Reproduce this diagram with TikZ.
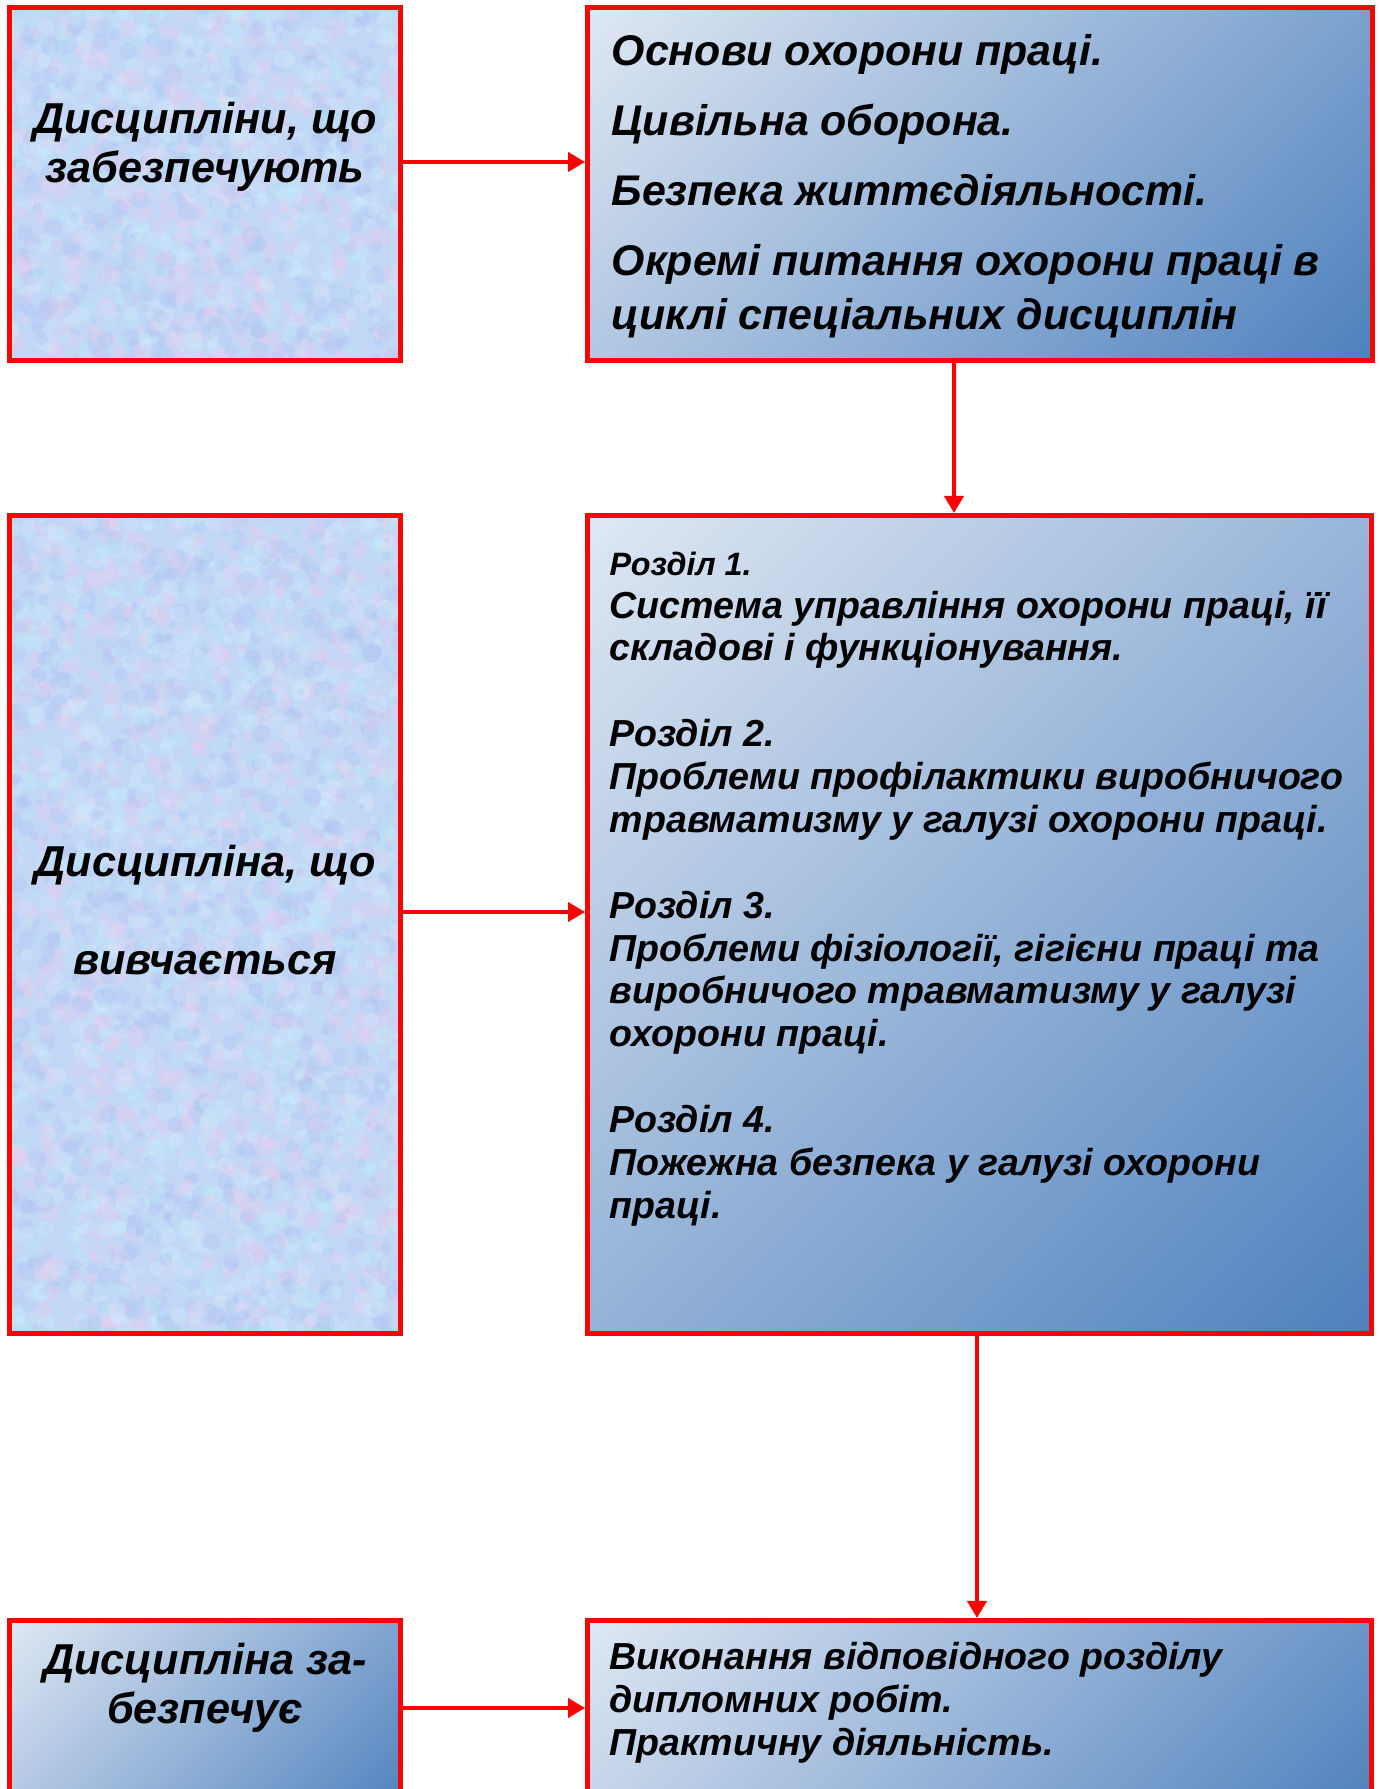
\documentclass[tikz,border=0pt]{standalone}
\usepackage{fontspec}
\setmainfont{Liberation Sans}
\usetikzlibrary{calc,arrows.meta}

\definecolor{boxred}{RGB}{255,0,0}
\definecolor{shlight}{RGB}{222,231,243}
\definecolor{shdark}{RGB}{79,129,189}
\definecolor{texbase}{RGB}{194,214,246}
\definecolor{tex0}{RGB}{238,204,238}
\definecolor{tex1}{RGB}{190,234,248}
\definecolor{tex2}{RGB}{172,196,242}
\definecolor{tex3}{RGB}{210,238,252}

\pgfdeclareverticalshading{diaggrad}{100bp}{color(0bp)=(shdark); color(15bp)=(shdark);
  color(85bp)=(shlight); color(100bp)=(shlight)}

\tikzset{
  box/.style={draw=boxred, line width=0.05cm, inner sep=0pt},
  grad/.style={box, shading=diaggrad, shading angle=45},
  texture/.style={box, fill=texbase, path picture={
      \path (path picture bounding box.south west) coordinate (sw)
            (path picture bounding box.north east) coordinate (ne);
      \foreach \k in {1,...,#1}{
        \pgfmathsetmacro{\tx}{rnd}
        \pgfmathsetmacro{\ty}{rnd}
        \pgfmathsetmacro{\tr}{0.03+0.07*rnd}
        \pgfmathtruncatemacro{\tc}{int(3.999*rnd)}
        \colorlet{texcur}{tex\tc}
        \fill[texcur, opacity=0.28] let \p1=(sw), \p2=(ne) in
          ({\x1+\tx*(\x2-\x1)},{\y1+\ty*(\y2-\y1)}) circle (\tr cm);
      }
    }},
  arr/.style={draw=boxred, line width=0.04cm, -{Triangle[length=0.17cm,width=0.19cm]}},
  bigtxt/.style={font=\fontsize{12.3}{14.1}\selectfont\bfseries\itshape, align=center, inner sep=0pt},
  midtxt/.style={font=\fontsize{12.2}{15.4}\selectfont\bfseries\itshape, align=left, inner sep=0pt, anchor=north west},
  smalltxt/.style={font=\fontsize{10.7}{12.2}\selectfont\bfseries\itshape, align=left, inner sep=0pt, anchor=north west}
}

\begin{document}
\begin{tikzpicture}
  \pgfmathsetseed{7}
  \useasboundingbox (0,0) rectangle (13.79,17.89);
  \fill[white] (0,0) rectangle (13.79,17.89);
  \clip (0,0) rectangle (13.79,17.89);

  % boxes
  \node[texture=1500, minimum width=3.91cm, minimum height=3.53cm] (prov) at (2.05,16.05) {};
  \node[grad, minimum width=7.85cm, minimum height=3.53cm] (provlist) at (9.80,16.05) {};
  \node[texture=3500, minimum width=3.91cm, minimum height=8.18cm] (stud) at (2.05,8.645) {};
  \node[grad, minimum width=7.84cm, minimum height=8.18cm] (studlist) at (9.795,8.645) {};
  \node[grad, minimum width=3.91cm, minimum height=2cm] (give) at (2.05,0.685) {};
  \node[grad, minimum width=7.84cm, minimum height=2cm] (givelist) at (9.795,0.685) {};

  % texts
  \node[bigtxt] (provtxt) at (2.05,16.42) {Дисципліни, що\\забезпечують};
  \node[midtxt] (provlisttxt) at (6.11,17.55) {Основи охорони праці.\\[4.5pt]
    Цивільна оборона.\\[4.5pt]
    Безпека життєдіяльності.\\[4.5pt]
    Окремі питання охорони праці в\\
    циклі спеціальних дисциплін};
  \node[bigtxt] (studtxt) at (2.05,8.79) {Дисципліна, що\\[13.9pt]вивчається};
  \node[smalltxt] (studlisttxt) at (6.09,12.38) {{\fontsize{9.2}{12.2}\selectfont Розділ 1.}\\
    Система управління охорони праці, її\\
    складові і функціонування.\\[12.2pt]
    Розділ 2.\\
    Проблеми профілактики виробничого\\
    травматизму у галузі охорони праці.\\[12.2pt]
    Розділ 3.\\
    Проблеми фізіології, гігієни праці та\\
    виробничого травматизму у галузі\\
    охорони праці.\\[12.2pt]
    Розділ 4.\\
    Пожежна безпека у галузі охорони\\
    праці.};
  \node[bigtxt] (givetxt) at (2.05,1.01) {Дисципліна за-\\безпечує};
  \node[smalltxt] (givelisttxt) at (6.09,1.47) {Виконання відповідного розділу\\
    дипломних робіт.\\
    Практичну діяльність.};

  % arrows
  \draw[arr] ([yshift=0.22cm]prov.east) -- ([yshift=0.22cm]provlist.west);
  \draw[arr] ([xshift=-0.26cm]provlist.south) -- ([xshift=-0.255cm]studlist.north);
  \draw[arr] ([yshift=0.125cm]stud.east) -- ([yshift=0.125cm]studlist.west);
  \draw[arr] ([xshift=-0.025cm]studlist.south) -- ([xshift=-0.025cm]givelist.north);
  \draw[arr] ([yshift=0.125cm]give.east) -- ([yshift=0.125cm]givelist.west);
\end{tikzpicture}
\end{document}
